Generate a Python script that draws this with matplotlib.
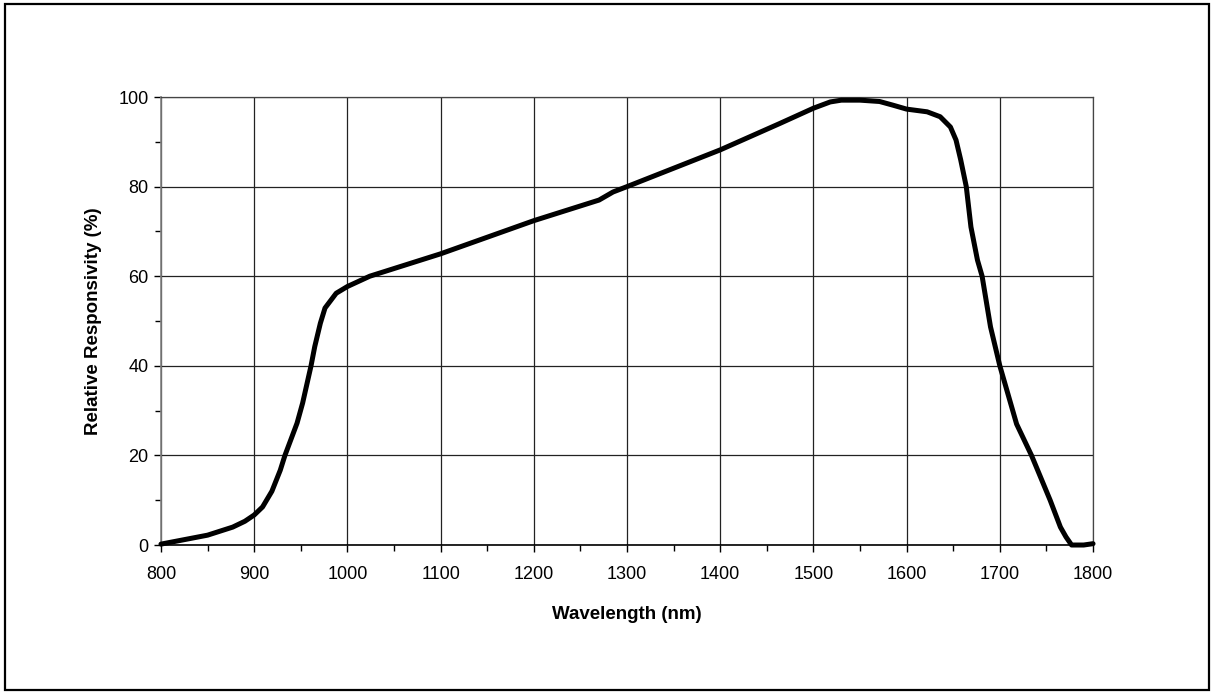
import numpy as np
import matplotlib
matplotlib.use('Agg')
import matplotlib.pyplot as plt
import matplotlib.patches as mpatches
from matplotlib.ticker import MultipleLocator

# spectral response
wavelength = [800, 825, 850, 877, 890, 900, 909, 919, 928, 933, 946, 952, 961, 965, 971,
              976, 988, 1000, 1024, 1100, 1200, 1270, 1285, 1300, 1400, 1464, 1500, 1518,
              1530, 1550, 1571, 1585, 1600, 1622, 1636, 1647, 1653, 1658, 1664, 1669, 1676,
              1681, 1690, 1700, 1718, 1734, 1754, 1765, 1771, 1777, 1790, 1800]
responsivity = [0.2, 1.2, 2.2, 4.0, 5.3, 6.7, 8.5, 12.0, 16.7, 20.0, 27.2, 31.7, 40.0, 44.3,
                49.5, 52.9, 56.2, 57.7, 60.0, 65.0, 72.4, 77.0, 78.8, 80.0, 88.2, 94.1, 97.5,
                98.9, 99.3, 99.3, 99.0, 98.2, 97.3, 96.7, 95.6, 93.3, 90.4, 86.0, 80.0, 71.0,
                63.6, 60.0, 48.7, 40.0, 27.0, 20.0, 10.0, 4.0, 1.8, 0.0, 0.0, 0.3]

x_ticks = np.arange(800, 1801, 100)
y_ticks = np.arange(0, 101, 20)

plt.rcParams['font.family'] = ['Liberation Sans', 'DejaVu Sans']

fig = plt.figure(figsize=(12.13, 6.95), dpi=100)
ax = fig.add_axes([0.1327, 0.2158, 0.7684, 0.6446])

ax.plot(wavelength, responsivity, color='black', lw=3.6, solid_joinstyle='round',
        solid_capstyle='round', clip_on=False, zorder=3)

ax.set_xlim(800, 1800)
ax.set_ylim(0, 100)
ax.set_xticks(x_ticks)
ax.set_yticks(y_ticks)
ax.xaxis.set_minor_locator(MultipleLocator(50))
ax.yaxis.set_minor_locator(MultipleLocator(10))
ax.tick_params(axis='both', which='major', labelsize=13, length=5, width=1, color='black')
ax.tick_params(axis='both', which='minor', length=4, width=1, color='black')
ax.tick_params(axis='x', pad=10)
ax.tick_params(axis='y', pad=4)

ax.grid(True, which='major', color='#222222', lw=0.9)
for side in ['top', 'right']:
    ax.spines[side].set_color('#444444')
    ax.spines[side].set_linewidth(0.9)
ax.spines['left'].set_color('#808080')
ax.spines['left'].set_linewidth(1.2)
ax.spines['bottom'].set_color('black')
ax.spines['bottom'].set_linewidth(1.2)

ax.set_xlabel('Wavelength (nm)', fontsize=13.5, fontweight='bold', labelpad=17)
ax.set_ylabel('Relative Responsivity (%)', fontsize=13.5, fontweight='bold', labelpad=12)

# outer frame round the whole chart
fig.patches.append(mpatches.Rectangle((0.0045, 0.0065), 0.9925, 0.9875, transform=fig.transFigure,
                                      fill=False, edgecolor='black', lw=1.6))

fig.savefig('out.png', dpi=100)
